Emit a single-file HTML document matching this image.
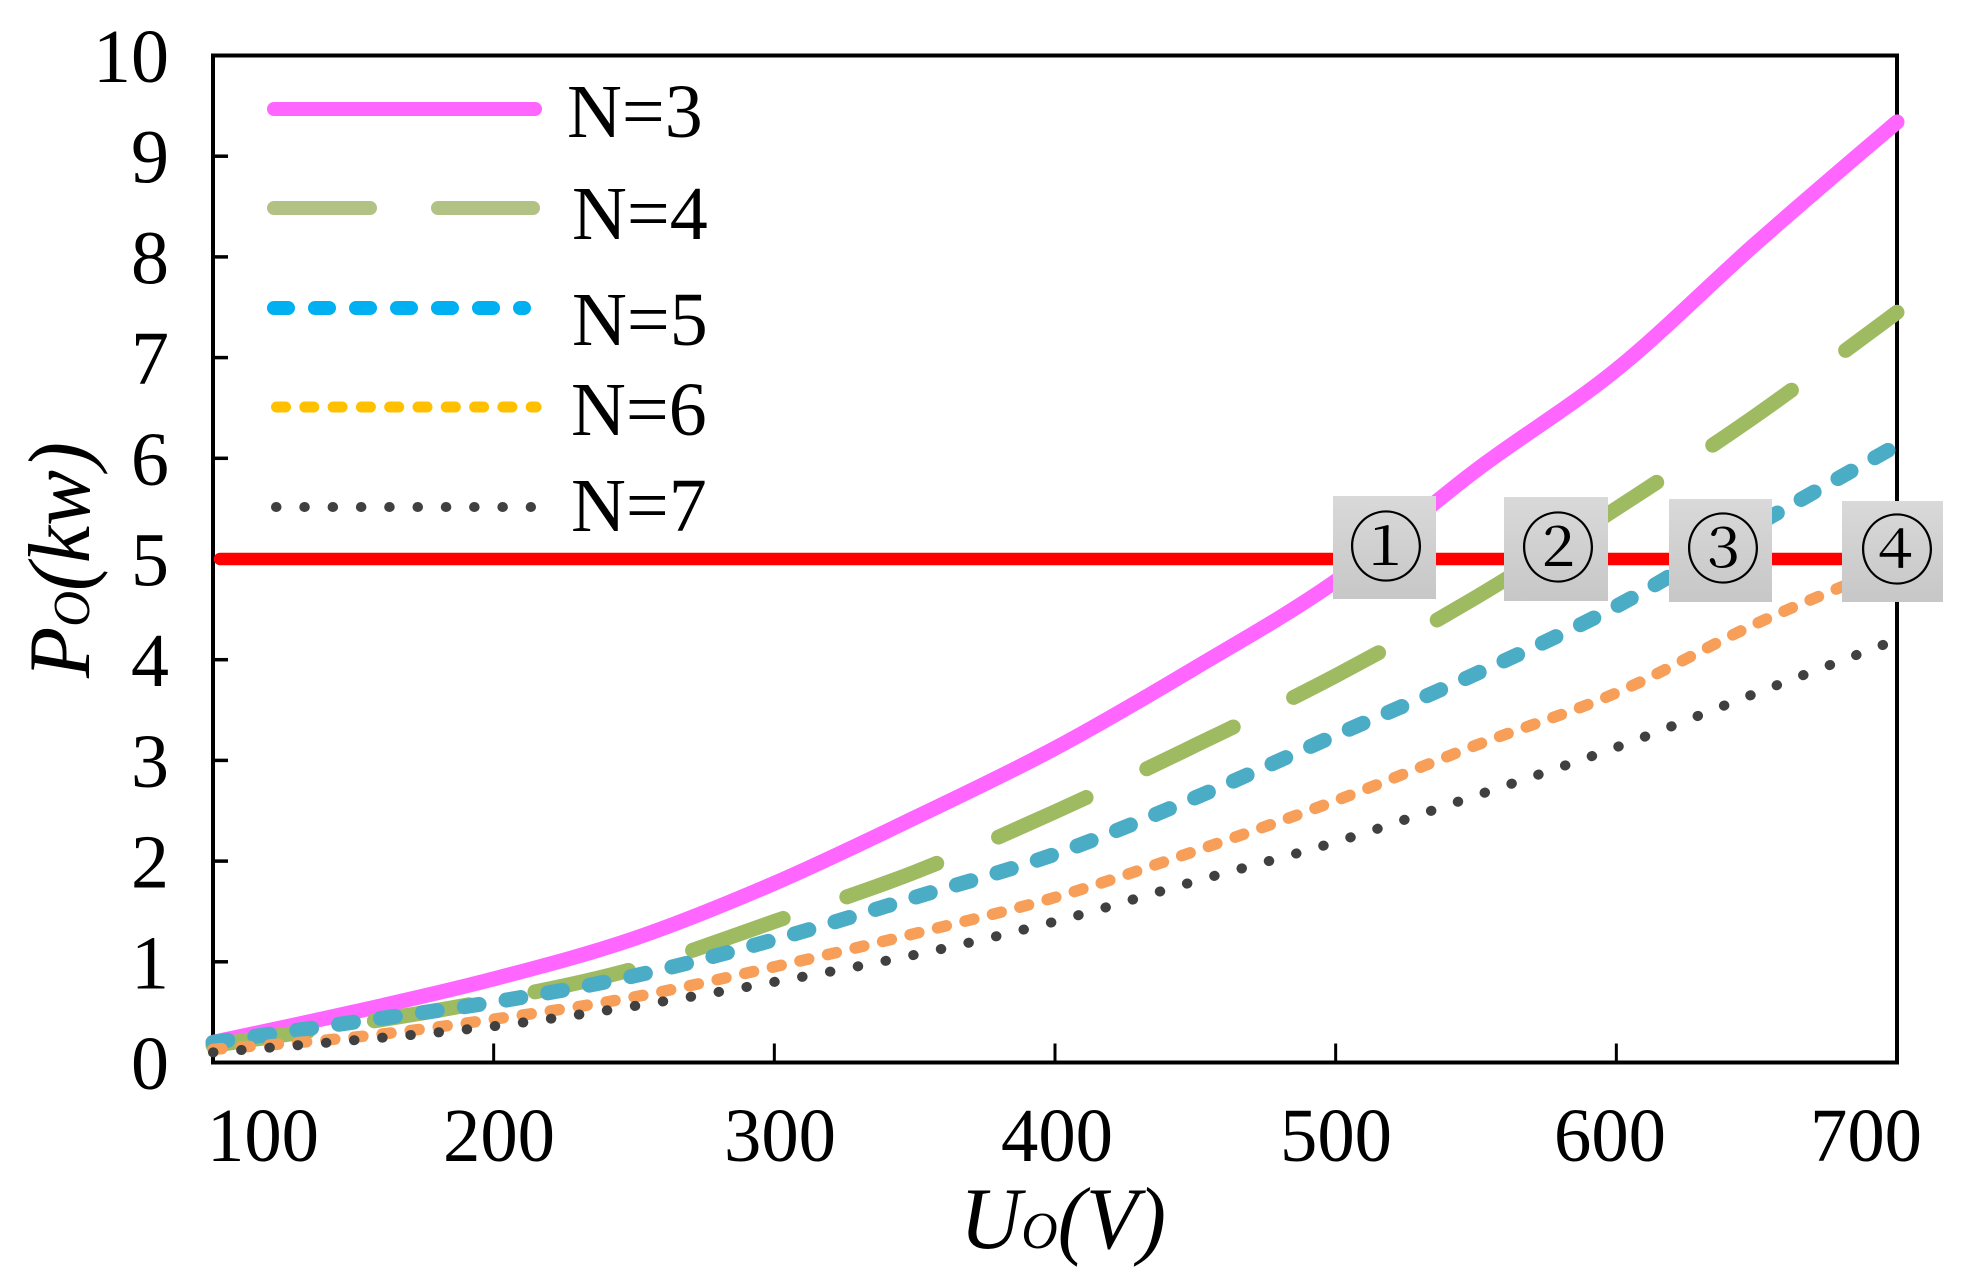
<!DOCTYPE html>
<html lang="en">
<head>
<meta charset="utf-8">
<title>Output power vs output voltage</title>
<style>
html,body{margin:0;padding:0;background:#fff;width:1965px;height:1276px;overflow:hidden}
svg{display:block}
text{font-family:"Liberation Serif","Noto Serif CJK SC",serif;fill:#000}
</style>
</head>
<body>
<svg id="chart" xmlns="http://www.w3.org/2000/svg" width="1965" height="1276" viewBox="0 0 1965 1276">
  <defs>
    <linearGradient id="boxGrad" x1="0" y1="0" x2="0" y2="1">
      <stop offset="0" stop-color="#d9d9d9"/>
      <stop offset="1" stop-color="#c7c7c7"/>
    </linearGradient>
  </defs>

  <rect x="213" y="55.5" width="1684" height="1007" fill="none" stroke="#000" stroke-width="4"/>
  <g id="ticks"></g>
  <g id="yLabels" font-size="76" text-anchor="end"></g>

  <g font-size="76" text-anchor="middle">
    <text x="263" y="1161" textLength="112" lengthAdjust="spacingAndGlyphs">100</text>
    <text x="499" y="1161" textLength="112" lengthAdjust="spacingAndGlyphs">200</text>
    <text x="780" y="1161" textLength="112" lengthAdjust="spacingAndGlyphs">300</text>
    <text x="1057" y="1161" textLength="112" lengthAdjust="spacingAndGlyphs">400</text>
    <text x="1336" y="1161" textLength="112" lengthAdjust="spacingAndGlyphs">500</text>
    <text x="1610" y="1161" textLength="112" lengthAdjust="spacingAndGlyphs">600</text>
    <text x="1866" y="1161" textLength="112" lengthAdjust="spacingAndGlyphs">700</text>
  </g>

  <text x="960" y="1248" font-size="88" font-style="italic" textLength="206" lengthAdjust="spacingAndGlyphs">U<tspan font-size="52">O</tspan>(V)</text>
  <text transform="translate(89 678) rotate(-90)" font-size="88" font-style="italic" textLength="236" lengthAdjust="spacingAndGlyphs">P<tspan font-size="52">O</tspan>(kw)</text>

  <g id="series" fill="none" stroke-linecap="round" stroke-linejoin="round"></g>

  <g fill="none" stroke-linecap="round">
    <line x1="274" y1="109" x2="535" y2="109" stroke="#ff66ff" stroke-width="14"/>
    <line x1="274" y1="208" x2="533" y2="208" stroke="#b2c184" stroke-width="14" stroke-dasharray="96 68"/>
    <line x1="274" y1="308" x2="524" y2="308" stroke="#00b0f0" stroke-width="14" stroke-dasharray="14 27"/>
    <line x1="276.5" y1="407" x2="536" y2="407" stroke="#ffc000" stroke-width="11" stroke-dasharray="9 19.3"/>
    <line x1="276" y1="507" x2="531" y2="507" stroke="#404040" stroke-width="10" stroke-dasharray="0.5 27.8"/>
    <text x="567" y="137" font-size="76">N=3</text>
    <text x="572" y="239" font-size="76">N=4</text>
    <text x="572" y="345" font-size="76">N=5</text>
    <text x="571" y="435" font-size="76">N=6</text>
    <text x="571" y="531" font-size="76">N=7</text>
  </g>

  <g>
    <g>
      <rect x="1333" y="496" width="103" height="103" fill="url(#boxGrad)"/>
      <text x="1386" y="575" font-size="76" text-anchor="middle">①</text>
    </g>
    <g>
      <rect x="1504" y="497" width="104" height="104" fill="url(#boxGrad)"/>
      <text x="1558" y="576" font-size="76" text-anchor="middle">②</text>
    </g>
    <g>
      <rect x="1669" y="499" width="103" height="103" fill="url(#boxGrad)"/>
      <text x="1723" y="577" font-size="76" text-anchor="middle">③</text>
    </g>
    <g>
      <rect x="1842" y="501" width="101" height="101" fill="url(#boxGrad)"/>
      <text x="1897" y="578" font-size="76" text-anchor="middle">④</text>
    </g>
  </g>
</svg>

<script>
const voltages = [100, 150, 200, 250, 300, 350, 400, 450, 500, 550, 600, 650, 700];
const powerN3 = [0.2, 0.5, 0.83, 1.23, 1.78, 2.43, 3.12, 3.92, 4.78, 5.88, 6.88, 8.14, 9.34];
const powerN4 = [0.17, 0.38, 0.62, 0.93, 1.4, 1.89, 2.49, 3.15, 3.84, 4.62, 5.5, 6.43, 7.45];
const powerN5 = [0.2, 0.4, 0.6, 0.86, 1.22, 1.64, 2.07, 2.63, 3.25, 3.86, 4.53, 5.34, 6.13];
const powerN6 = [0.13, 0.25, 0.43, 0.65, 0.95, 1.28, 1.64, 2.1, 2.6, 3.15, 3.67, 4.36, 4.95];
const powerN7 = [0.1, 0.22, 0.36, 0.56, 0.8, 1.07, 1.4, 1.8, 2.19, 2.65, 3.13, 3.67, 4.2];
const ratedPower = [5, 5];
const ratedVoltages = [102.5, 700];
const xTicks = [200, 300, 400, 500, 600];
const yTicks = [1, 2, 3, 4, 5, 6, 7, 8, 9];
const yTickLabels = [0, 1, 2, 3, 4, 5, 6, 7, 8, 9, 10];

const NS = 'http://www.w3.org/2000/svg';
function xScale(u) { return 213 + (u - 100) * (1684 / 600); }
function yScale(p) { return 1062.5 - p * 100.7; }

const tickGroup = document.getElementById('ticks');
xTicks.forEach(function (t) {
  const tick = document.createElementNS(NS, 'line');
  
  
  tick.setAttribute('x1', xScale(t));
  tick.setAttribute('x2', xScale(t));
  tick.setAttribute('y1', yScale(0));
  tick.setAttribute('y2', yScale(0) - 19);
  tick.setAttribute('stroke', '#000');
  tick.setAttribute('stroke-width', '3');
  tickGroup.appendChild(tick);
});
yTicks.forEach(function (t) {
  const tick = document.createElementNS(NS, 'line');
  
  
  tick.setAttribute('x1', 213);
  tick.setAttribute('x2', 228);
  tick.setAttribute('y1', yScale(t));
  tick.setAttribute('y2', yScale(t));
  tick.setAttribute('stroke', '#000');
  tick.setAttribute('stroke-width', '3.5');
  tickGroup.appendChild(tick);
});

const yLabelGroup = document.getElementById('yLabels');
yTickLabels.forEach(function (t) {
  const label = document.createElementNS(NS, 'text');
  
  
  label.setAttribute('x', 169);
  label.setAttribute('y', yScale(t) + 26.5);
  label.textContent = String(t);
  yLabelGroup.appendChild(label);
});

function pathFor(xs, ys) {
  const pts = xs.map(function (u, i) { return [xScale(u), yScale(ys[i])]; });
  let d = 'M' + pts[0][0].toFixed(1) + ' ' + pts[0][1].toFixed(1);
  for (let i = 0; i < pts.length - 1; i++) {
    const p0 = pts[Math.max(i - 1, 0)];
    const p1 = pts[i];
    const p2 = pts[i + 1];
    const p3 = pts[Math.min(i + 2, pts.length - 1)];
    const c1x = p1[0] + (p2[0] - p0[0]) / 6;
    const c1y = p1[1] + (p2[1] - p0[1]) / 6;
    const c2x = p2[0] - (p3[0] - p1[0]) / 6;
    const c2y = p2[1] - (p3[1] - p1[1]) / 6;
    d += ' C' + c1x.toFixed(1) + ' ' + c1y.toFixed(1) + ' ' + c2x.toFixed(1) + ' ' + c2y.toFixed(1) + ' ' + p2[0].toFixed(1) + ' ' + p2[1].toFixed(1);
  }
  return d;
}

const seriesGroup = document.getElementById('series');

const lineN3 = document.createElementNS(NS, 'path');


lineN3.setAttribute('d', pathFor(voltages, powerN3));
lineN3.setAttribute('stroke', '#ff66ff');
lineN3.setAttribute('stroke-width', '15');
seriesGroup.appendChild(lineN3);

const lineN4 = document.createElementNS(NS, 'path');


lineN4.setAttribute('d', pathFor(voltages, powerN4));
lineN4.setAttribute('stroke', '#9fbb62');
lineN4.setAttribute('stroke-width', '15');
lineN4.setAttribute('stroke-dasharray', '96 67.2');
seriesGroup.appendChild(lineN4);

const lineN5 = document.createElementNS(NS, 'path');


lineN5.setAttribute('d', pathFor(voltages, powerN5));
lineN5.setAttribute('stroke', '#4bacc6');
lineN5.setAttribute('stroke-width', '15');
lineN5.setAttribute('stroke-dasharray', '15 27.3');
seriesGroup.appendChild(lineN5);

const lineN6 = document.createElementNS(NS, 'path');


lineN6.setAttribute('d', pathFor(voltages, powerN6));
lineN6.setAttribute('stroke', '#f79e58');
lineN6.setAttribute('stroke-width', '11.5');
lineN6.setAttribute('stroke-dasharray', '9 19.3');
seriesGroup.appendChild(lineN6);

const lineN7 = document.createElementNS(NS, 'path');


lineN7.setAttribute('d', pathFor(voltages, powerN7));
lineN7.setAttribute('stroke', '#404040');
lineN7.setAttribute('stroke-width', '10');
lineN7.setAttribute('stroke-dasharray', '0.5 27.8');
seriesGroup.appendChild(lineN7);

const lineRated = document.createElementNS(NS, 'path');


lineRated.setAttribute('d', pathFor(ratedVoltages, ratedPower));
lineRated.setAttribute('stroke', '#ff0000');
lineRated.setAttribute('stroke-width', '12.5');
seriesGroup.appendChild(lineRated);
</script>
</body>
</html>
